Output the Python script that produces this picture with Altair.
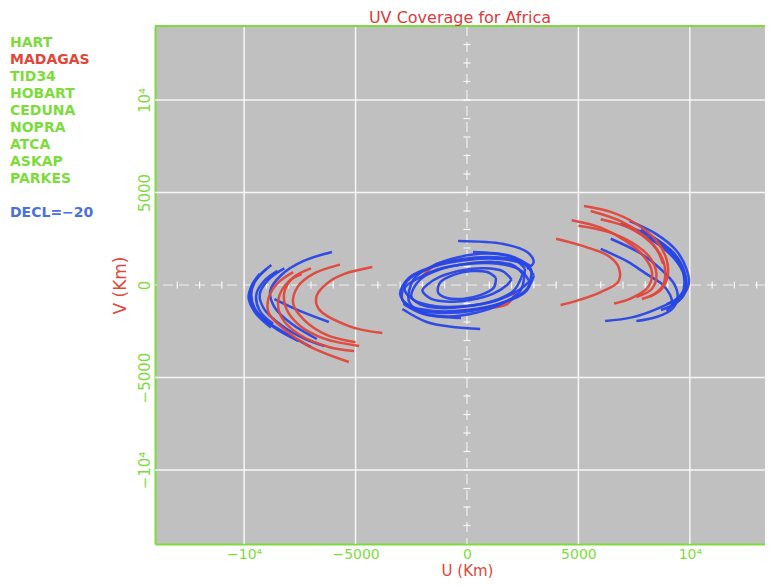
import altair as alt
import pandas as pd

FONT = "DejaVu Sans"
GREEN = "#7ddc3c"
RED = "#e0463a"
TITLE_RED = "#d83c3c"
BLUE = "#2846e6"
LEGEND_BLUE = "#4a70dc"
GRAY = "#c0c0c0"

W, H = 610, 518

U_DOMAIN = [-14000, 13372]
V_DOMAIN = [-14000, 14000]

tick_values = [-10000, -5000, 0, 5000, 10000]
tick_labels = ["\u221210\u2074", "\u22125000", "0", "5000", "10\u2074"]
grid_values = [-10000, -5000, 5000, 10000]
minor_values = [-13000, -12000, -11000, -10000, -9000, -8000, -7000, -6000, -5000,
                -4000, -3000, -2000, -1000, 1000, 2000, 3000, 4000, 5000, 6000,
                7000, 8000, 9000, 10000, 11000, 12000, 13000]

station_names = ["HART", "MADAGAS", "TID34", "HOBART", "CEDUNA", "NOPRA", "ATCA", "ASKAP", "PARKES"]
station_is_red = [False, True, False, False, False, False, False, False, False]
decl_label = "DECL=\u221220"

title_text = "UV Coverage for Africa"
x_title = "U (Km)"
y_title = "V (Km)"

# ---- UV tracks (u, v) in Km ----
# right-hand cluster, blue
rb1 = [(7300, 3450), (8500, 2750), (9400, 1850), (9850, 860), (9950, 50), (9640, -600), (8960, -1030)]
rb2 = [(6900, 3300), (8300, 2600), (9300, 1700), (9750, 750), (9800, -100), (9400, -750), (8500, -1300), (7400, -1750), (6200, -1950)]
rb3 = [(6000, 1950), (7150, 1300), (8050, 600), (8750, 50), (9100, -500), (9200, -1030), (8950, -1400)]
rb4 = [(7800, 3000), (8800, 2200), (9500, 1300), (9750, 320), (9650, -500), (9200, -1030)]
rb5 = [(6450, 2500), (7800, 1700), (8700, 850), (9300, 50), (9450, -650), (9200, -1300), (8500, -1730), (7600, -1950)]
rb6 = [(7600, 2900), (8700, 2100), (9450, 1200), (9800, 300), (9750, -450), (9350, -1000), (8700, -1350)]
rb7 = [(8200, 2600), (9000, 1900), (9600, 1000), (9850, 100), (9700, -600), (9100, -1200)]
# right-hand cluster, red
rr1 = [(5250, 4270), (6450, 3950), (7600, 3300), (8500, 2400), (8950, 1400), (9000, 450), (8650, -320), (7850, -760)]
rr2 = [(4000, 2500), (5350, 2050), (6350, 1570), (6800, 970), (6800, 200), (6000, -380), (4900, -860), (4200, -1080)]
rr3 = [(5000, 3200), (6250, 2900), (7400, 2300), (8200, 1500), (8500, 600), (8300, -200), (7600, -650)]
rr4 = [(6000, 3550), (7150, 3150), (8050, 2500), (8650, 1700), (8900, 750), (8750, -100), (8200, -650)]
rr5 = [(5550, 4000), (6900, 3450), (7900, 2700), (8500, 1950), (8800, 1150)]
rr6 = [(4700, 3500), (6000, 3100), (7100, 2400), (7900, 1600), (8300, 700), (8100, -150), (7300, -750), (6600, -1000)]
# left-hand cluster, blue
lb1 = [(-8780, 1080), (-9370, 430), (-9730, -320), (-9590, -1190), (-9000, -1950), (-8000, -2700), (-7010, -3350)]
lb2 = [(-6060, 1780), (-7330, 1300), (-8330, 540), (-8830, -320), (-8640, -1190), (-7870, -2100), (-6740, -2920)]
lb3 = [(-9000, 870), (-9500, 220), (-9680, -540), (-9460, -1400), (-8690, -2270), (-7560, -3030)]
lb4 = [(-8500, 760), (-9100, 220), (-9450, -500), (-9300, -1400), (-8700, -2100)]
lb5 = [(-8640, -760), (-7500, -1400), (-6200, -2000)]
lb6 = [(-8200, 900), (-8900, 300), (-9300, -500), (-9100, -1300), (-8300, -2200), (-7300, -2900), (-6400, -3300)]
lb7 = [(-9300, 600), (-9650, 0), (-9800, -700), (-9500, -1500), (-8800, -2300)]
# left-hand cluster, red
lr1 = [(-4250, 970), (-5500, 600), (-6200, 160), (-6750, -590), (-6650, -1300), (-5300, -2220), (-3800, -2600)]
lr2 = [(-7420, 590), (-8000, 200), (-8460, -760), (-8330, -1730), (-7560, -2650), (-6200, -3350), (-5070, -3570)]
lr3 = [(-7800, 700), (-8500, 100), (-8900, -700), (-8900, -1500), (-8200, -2400), (-7100, -3300), (-5300, -4160)]
lr4 = [(-7000, 900), (-7800, 400), (-8200, -400), (-8100, -1300), (-7500, -2200), (-6400, -2900), (-4840, -3300)]
lr5 = [(-5700, 1100), (-6900, 600), (-7600, -100), (-7800, -1000), (-7300, -1900), (-6300, -2700), (-5000, -3100)]
# central short-baseline loops, blue
e1 = [(3000, 500), (2600, 1100), (1500, 1400), (0, 1350), (-1500, 1000), (-2600, 400), (-3000, -500),
      (-2600, -1100), (-1500, -1400), (0, -1350), (1500, -1000), (2600, -400), (3000, 500)]
e2 = [(2500, 600), (2100, 1050), (1200, 1250), (0, 1150), (-1200, 850), (-2100, 300), (-2500, -600),
      (-2100, -1050), (-1200, -1250), (0, -1150), (1200, -850), (2100, -300), (2500, 600)]
e3 = [(2000, 300), (1600, 750), (800, 900), (-200, 800), (-1200, 450), (-1800, 0), (-2000, -300),
      (-1600, -750), (-800, -900), (200, -800), (1200, -450), (1800, 0), (2000, 300)]
e4 = [(1300, 400), (900, 700), (200, 750), (-600, 550), (-1200, 150), (-1300, -400), (-900, -700),
      (-200, -750), (600, -550), (1200, -150), (1300, 400)]
e5 = [(2800, 200), (2400, 800), (1400, 1150), (100, 1150), (-1300, 850), (-2300, 300), (-2800, -200),
      (-2400, -800), (-1400, -1150), (-100, -1150), (1300, -850), (2300, -300), (2800, 200)]
e6 = [(2600, 900), (2000, 1500), (900, 1700), (-400, 1500), (-1600, 1000), (-2400, 300), (-2600, -900),
      (-2000, -1500), (-900, -1700), (400, -1500), (1600, -1000), (2400, -300), (2600, 900)]
e7 = [(2900, 800), (2400, 1300), (1300, 1500), (-200, 1400), (-1700, 900), (-2700, 200), (-2900, -800),
      (-2400, -1300), (-1300, -1500), (200, -1400), (1700, -900), (2700, -200), (2900, 800)]
t1 = [(-400, 2380), (1630, 2220), (2700, 1780), (2990, 1240), (2700, 860)]
t2 = [(270, 1780), (1950, 1570), (2850, 1020)]
b1 = [(-2900, -1300), (-1810, -2000), (-630, -2270), (590, -2380)]
b2 = [(-2850, -1020), (-1950, -1570), (-270, -1780)]
# central arcs, red
rc1 = [(-2100, 300), (-1900, 600), (-1360, 1135), (-450, 1350), (300, 1400)]
rc2 = [(-300, -1400), (590, -1300), (1810, -1030), (2080, -650), (2200, -300)]

side_blue = [rb1, rb2, rb3, rb4, rb5, rb6, rb7, lb1, lb2, lb3, lb4, lb5, lb6, lb7]
side_red = [rr1, rr2, rr3, rr4, rr5, rr6, lr1, lr2, lr3, lr4, lr5]
center_blue = [e1, e2, e3, e4, e5, e6, e7, t1, t2, b1, b2]
center_red = [rc1, rc2]


def tracks_frame(tracks, prefix):
    rows = []
    for k, tr in enumerate(tracks):
        for i, (u, v) in enumerate(tr):
            rows.append({"track": f"{prefix}{k}", "i": i, "u": u, "v": v})
    return pd.DataFrame(rows)


def label_expr(values, labels):
    parts = [f"datum.value == {v} ? '{l}'" for v, l in zip(values, labels)]
    return " : ".join(parts) + " : datum.label"


xs = alt.Scale(domain=U_DOMAIN, nice=False, zero=False)
ys = alt.Scale(domain=V_DOMAIN, nice=False, zero=False)

xaxis = alt.Axis(values=tick_values, labelExpr=label_expr(tick_values, tick_labels),
                 grid=False, ticks=False, domainColor=GREEN, domainWidth=2,
                 labelColor=GREEN, labelFont=FONT, labelFontSize=14, labelPadding=3,
                 labelOverlap=False, labelFlush=False,
                 titleColor=RED, titleFont=FONT, titleFontSize=15, titleFontWeight="normal",
                 titlePadding=2, titleX=312)
yaxis = alt.Axis(values=tick_values, labelExpr=label_expr(tick_values, tick_labels),
                 grid=False, ticks=False, domainColor=GREEN, domainWidth=2,
                 labelColor=GREEN, labelFont=FONT, labelFontSize=15, labelPadding=3,
                 labelAngle=270, labelAlign="center", labelBaseline="bottom",
                 labelOverlap=False, labelFlush=False,
                 titleColor=RED, titleFont=FONT, titleFontSize=17, titleFontWeight="normal",
                 titlePadding=8)


def X(field="u"):
    return alt.X(f"{field}:Q", scale=xs, axis=xaxis, title=x_title)


def Y(field="v"):
    return alt.Y(f"{field}:Q", scale=ys, axis=yaxis, title=y_title)


grid_v = alt.Chart(pd.DataFrame({"u": grid_values})).mark_rule(
    color="white", strokeWidth=1.5, opacity=0.85).encode(x=X())
grid_h = alt.Chart(pd.DataFrame({"v": grid_values})).mark_rule(
    color="white", strokeWidth=1.5, opacity=0.85).encode(y=Y())
zero_v = alt.Chart(pd.DataFrame({"u": [0]})).mark_rule(
    color="white", strokeWidth=1.2, opacity=0.75, strokeDash=[10, 6]).encode(x=X())
zero_h = alt.Chart(pd.DataFrame({"v": [0]})).mark_rule(
    color="white", strokeWidth=1.2, opacity=0.75, strokeDash=[10, 6]).encode(y=Y())
minor_on_h = alt.Chart(pd.DataFrame({"u": minor_values})).mark_tick(
    color="white", orient="vertical", size=7, thickness=1.2, opacity=0.85).encode(x=X(), y=alt.datum(0))
minor_on_v = alt.Chart(pd.DataFrame({"v": minor_values})).mark_tick(
    color="white", orient="horizontal", size=7, thickness=1.2, opacity=0.85).encode(y=Y(), x=alt.datum(0))


def track_layer(tracks, prefix, color):
    return alt.Chart(tracks_frame(tracks, prefix)).mark_line(
        color=color, strokeWidth=2.5, interpolate="catmull-rom", opacity=0.95
    ).encode(x=X(), y=Y(), detail="track:N", order="i:Q")


red_center = track_layer(center_red, "rc", RED)
blue_center = track_layer(center_blue, "bc", BLUE)
blue_side = track_layer(side_blue, "bs", BLUE)
red_side = track_layer(side_red, "rs", RED)

top_frame = alt.Chart(pd.DataFrame({"a": [0]})).mark_rule(color=GREEN, strokeWidth=2).encode(
    x=alt.value(0), x2=alt.value(W), y=alt.value(0))

legend_layers = []
for k, (name, is_red) in enumerate(zip(station_names, station_is_red)):
    legend_layers.append(
        alt.Chart(pd.DataFrame({"label": [name]})).mark_text(
            align="left", baseline="middle", font=FONT, fontSize=14, fontWeight="bold",
            color=RED if is_red else GREEN
        ).encode(text="label:N", x=alt.value(-145), y=alt.value(17 + 17.05 * k))
    )
legend_layers.append(
    alt.Chart(pd.DataFrame({"label": [decl_label]})).mark_text(
        align="left", baseline="middle", font=FONT, fontSize=14, fontWeight="bold", color=LEGEND_BLUE
    ).encode(text="label:N", x=alt.value(-145), y=alt.value(187))
)

chart = alt.layer(
    grid_v, grid_h, zero_v, zero_h, minor_on_h, minor_on_v,
    red_center, blue_center, blue_side, red_side, top_frame, *legend_layers
).properties(
    width=W, height=H,
    background="white",
    padding={"left": 147, "top": 18, "right": 0, "bottom": 34},
    autosize=alt.AutoSizeParams(type="none"),
    title=alt.TitleParams(text=title_text, color=TITLE_RED, font=FONT, fontSize=16,
                          fontWeight="normal", anchor="middle", frame="group", offset=-1),
).configure_view(fill=GRAY, stroke=None)

chart.save("out.html", embed_options={"renderer": "svg", "actions": False})
